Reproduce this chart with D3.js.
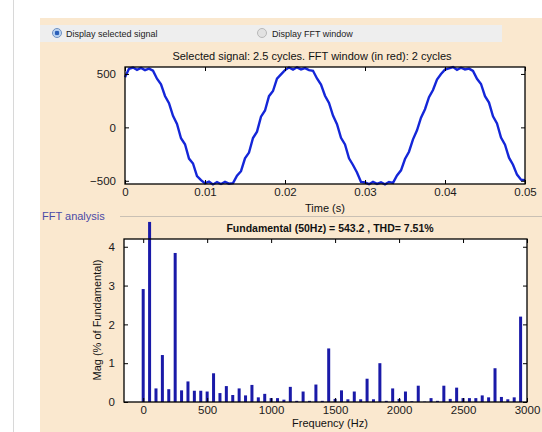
<!DOCTYPE html>
<html>
<head>
<meta charset="utf-8">
<script src="https://cdn.jsdelivr.net/npm/d3@7"></script>
<style>
  body { margin: 0; background: #fff; }
  svg { display: block; font-family: Arial, "Liberation Sans", sans-serif; }
</style>
</head>
<body>
<svg id="chart" width="542" height="432"></svg>
<script>
// selected signal, sampled every 0.5 ms (0 .. 0.05 s)
var sigValues = [470, 548, 560, 538, 556, 536, 550, 530, 455, 402,
  294, 226, 108, 32, -102, -158, -292, -338, -456, -494,
  -524, -508, -534, -512, -530, -510, -527, -522, -452, -410,
  -290, -236, -100, -40, 100, 158, 292, 340, 456, 496,
  536, 560, 540, 562, 543, 555, 536, 530, 458, 400,
  296, 228, 110, 30, -98, -160, -290, -352, -422, -510,
  -516, -532, -510, -529, -514, -533, -512, -520, -450, -402,
  -296, -228, -112, -28, 90, 170, 282, 350, 448, 500,
  540, 552, 564, 539, 558, 542, 550, 528, 454, 406,
  292, 232, 104, 36, -96, -162, -284, -350, -442, -490, -494];
var sigStep = 0.0005;

// FFT harmonics (Hz) and magnitude in % of fundamental
var freqs = [0, 50, 100, 150, 200, 250, 300, 350, 400, 450,
  500, 550, 600, 650, 700, 750, 800, 850, 900, 950,
  1000, 1050, 1100, 1150, 1200, 1250, 1300, 1350, 1400, 1450,
  1500, 1550, 1600, 1650, 1700, 1750, 1800, 1850, 1900, 1950,
  2000, 2050, 2100, 2150, 2200, 2250, 2300, 2350, 2400, 2450,
  2500, 2550, 2600, 2650, 2700, 2750, 2800, 2850, 2900, 2950];
var mags = [2.91, 4.64, 0.35, 1.21, 0.33, 3.84, 0.30, 0.53, 0.29, 0.29,
  0.27, 0.74, 0.23, 0.41, 0.18, 0.35, 0.17, 0.44, 0.12, 0.21,
  0.10, 0.10, 0.06, 0.39, 0.03, 0.27, 0.03, 0.45, 0.03, 1.38,
  0.08, 0.30, 0.07, 0.27, 0.07, 0.60, 0.07, 1.00, 0.03, 0.35,
  0.08, 0.27, 0.02, 0.42, 0.01, 0.10, 0.03, 0.42, 0.08, 0.37,
  0.10, 0.10, 0.10, 0.17, 0.12, 0.87, 0.13, 0.07, 0.12, 2.20];

var timeTicks = [0, 0.01, 0.02, 0.03, 0.04, 0.05];
var sigTicks = [-500, 0, 500];
var freqTicks = [0, 500, 1000, 1500, 2000, 2500, 3000];
var magTicks = [0, 1, 2, 3, 4];

var svg = d3.select("#chart");

// page background pieces
svg.append("line")
    .attr("x1", 13.5).attr("x2", 13.5)
    .attr("y1", 0).attr("y2", 432)
    .style("stroke", "#d8d8d8");
svg.append("rect")
    .attr("x", 40).attr("y", 18)
    .attr("width", 502).attr("height", 414)
    .style("fill", "#fae8cf");
svg.append("rect")
    .attr("x", 40).attr("y", 25)
    .attr("width", 462).attr("height", 17)
    .style("fill", "#eeeeee");

// radio buttons
var grad = svg.append("defs").append("radialGradient").attr("id", "rb");
grad.append("stop").attr("offset", "0%").attr("stop-color", "#2b5fb8");
grad.append("stop").attr("offset", "45%").attr("stop-color", "#2b5fb8");
grad.append("stop").attr("offset", "55%").attr("stop-color", "#a9c8ee");
grad.append("stop").attr("offset", "100%").attr("stop-color", "#cfe0f5");
svg.append("circle").attr("cx", 57).attr("cy", 33).attr("r", 4.5)
    .style("fill", "url(#rb)").style("stroke", "#6d8fc0");
svg.append("circle").attr("cx", 262).attr("cy", 33).attr("r", 4.5)
    .style("fill", "#e2e2e2").style("stroke", "#b8b8b8");
svg.append("text").attr("x", 66).attr("y", 36.5)
    .attr("font-size", 9).style("fill", "#222")
    .text("Display selected signal");
svg.append("text").attr("x", 272).attr("y", 36.5)
    .attr("font-size", 9).style("fill", "#222")
    .text("Display FFT window");

// ---- top plot: selected signal ----
var x1 = d3.scaleLinear().domain([0, 0.05]).range([125, 525]);
var y1 = d3.scaleLinear().domain([-530, 565]).range([184, 67]);

svg.append("text")
    .attr("x", 312).attr("y", 60)
    .attr("font-size", 11)
    .style("text-anchor", "middle")
    .style("fill", "#111")
    .text("Selected signal: 2.5 cycles. FFT window (in red): 2 cycles");

svg.append("rect")
    .attr("x", 125).attr("y", 67)
    .attr("width", 400).attr("height", 117)
    .style("fill", "#fff");

function drawBox(g, xs, ys, xt, yt, xfmt, yfmt) {
  var r = xs.range(), h = ys.range();
  var h0 = h[0] - h[1], w0 = r[1] - r[0];
  g.append("g").attr("transform", "translate(0," + h[0] + ")")
    .call(d3.axisBottom(xs).tickValues(xt).tickFormat(xfmt).tickSizeInner(-4).tickSizeOuter(0).tickPadding(4));
  g.append("g").attr("transform", "translate(0," + h[1] + ")")
    .call(d3.axisTop(xs).tickValues(xt).tickFormat("").tickSizeInner(-4).tickSizeOuter(0));
  g.append("g").attr("transform", "translate(" + r[0] + ",0)")
    .call(d3.axisLeft(ys).tickValues(yt).tickFormat(yfmt).tickSizeInner(-4).tickSizeOuter(0).tickPadding(9));
  g.append("g").attr("transform", "translate(" + r[1] + ",0)")
    .call(d3.axisRight(ys).tickValues(yt).tickFormat("").tickSizeInner(-4).tickSizeOuter(0));
  g.selectAll(".domain").remove();
  g.selectAll(".tick line").style("stroke", "#000");
  g.selectAll("g").attr("font-size", 11.5).attr("font-family", "Arial, 'Liberation Sans', sans-serif");
  g.selectAll(".tick text").style("fill", "#1a1a1a");
  g.append("rect")
    .attr("x", r[0]).attr("y", h[1])
    .attr("width", w0).attr("height", h0)
    .style("fill", "none").style("stroke", "#000").style("stroke-width", 1.3);
}

var line = d3.line()
    .x((d, i) => x1(i * sigStep))
    .y(d => y1(d));

svg.append("path")
    .datum(sigValues)
    .attr("d", line)
    .style("fill", "none")
    .style("stroke", "#1426d8")
    .style("stroke-width", 2.4)
    .style("stroke-linejoin", "miter");

drawBox(svg.append("g"), x1, y1, timeTicks, sigTicks, d => d === 0 ? "0" : d3.format(".2f")(d), d3.format("d"));

svg.append("text")
    .attr("x", 325).attr("y", 212)
    .attr("font-size", 11)
    .style("text-anchor", "middle")
    .style("fill", "#111")
    .text("Time (s)");

// ---- FFT analysis group ----
svg.append("line")
    .attr("x1", 120).attr("x2", 542)
    .attr("y1", 216.5).attr("y2", 216.5)
    .style("stroke", "#c9c0b4");
svg.append("text")
    .attr("x", 42).attr("y", 220)
    .attr("font-size", 11)
    .style("fill", "#4b4aa6")
    .text("FFT analysis");

var x2 = d3.scaleLinear().domain([-150, 3000]).range([124, 527]);
var y2 = d3.scaleLinear().domain([0, 4.2]).range([402, 239]);

svg.append("rect")
    .attr("x", 124).attr("y", 239)
    .attr("width", 403).attr("height", 163)
    .style("fill", "#fff");

svg.append("text")
    .attr("x", 330).attr("y", 232)
    .attr("font-size", 10.5)
    .attr("font-weight", "bold")
    .style("text-anchor", "middle")
    .style("fill", "#111")
    .text("Fundamental (50Hz) = 543.2 , THD= 7.51%");

svg.selectAll(".bar")
    .data(freqs)
    .enter()
    .append("rect")
    .classed("bar", true)
    .attr("x", d => x2(d) - 1.5)
    .attr("width", 3)
    .attr("y", (d, i) => y2(mags[i]))
    .attr("height", (d, i) => y2(0) - y2(mags[i]))
    .style("fill", "#1a1aa8");

drawBox(svg.append("g"), x2, y2, freqTicks, magTicks, d3.format("d"), d3.format("d"));

svg.append("text")
    .attr("transform", "translate(101,320) rotate(-90)")
    .attr("font-size", 11)
    .style("text-anchor", "middle")
    .style("fill", "#111")
    .text("Mag (% of Fundamental)");

svg.append("text")
    .attr("x", 330).attr("y", 427)
    .attr("font-size", 11)
    .style("text-anchor", "middle")
    .style("fill", "#111")
    .text("Frequency (Hz)");
</script>
</body>
</html>
